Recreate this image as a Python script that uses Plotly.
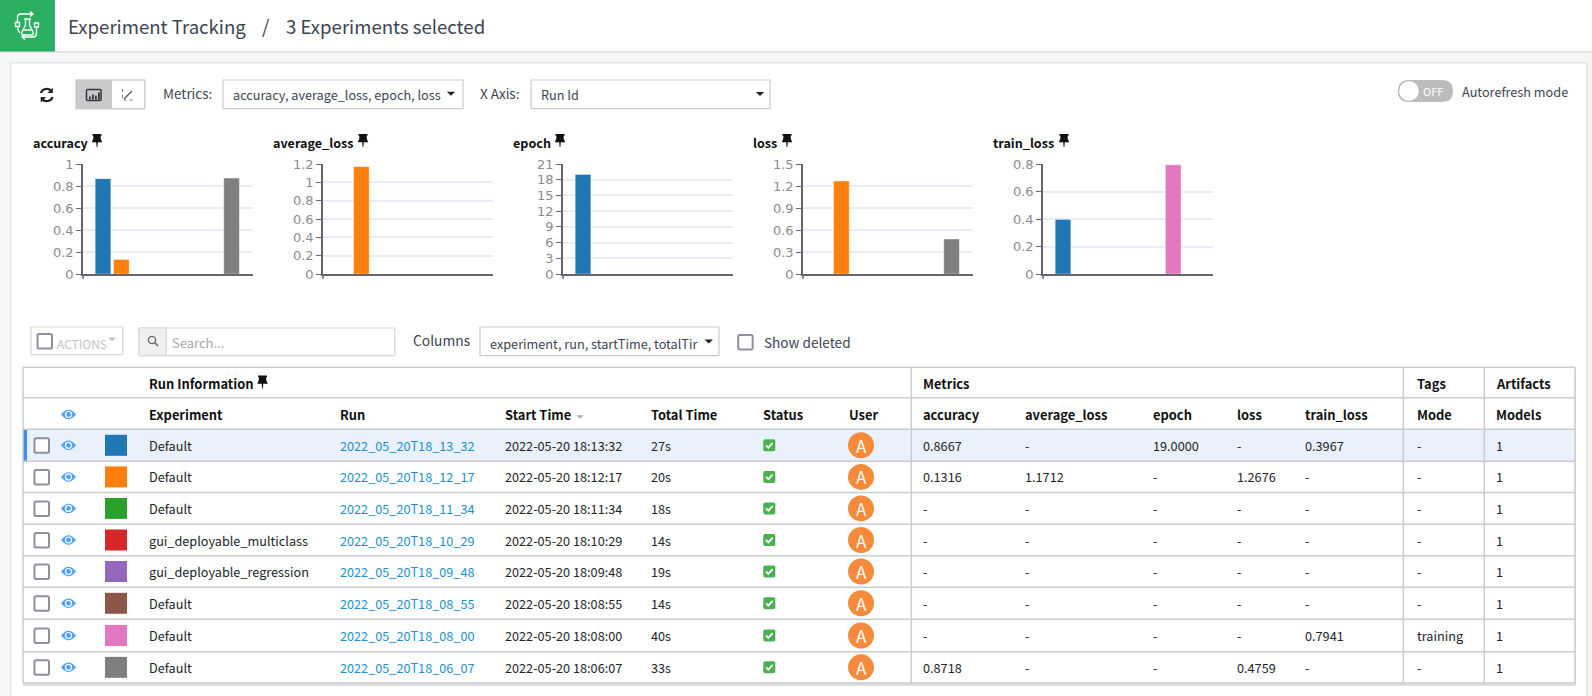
import plotly.graph_objects as go

# ---------- data ----------
run_ids = ["2022_05_20T18_13_32", "2022_05_20T18_12_17", "2022_05_20T18_11_34", "2022_05_20T18_10_29",
           "2022_05_20T18_09_48", "2022_05_20T18_08_55", "2022_05_20T18_08_00", "2022_05_20T18_06_07"]
experiments = ["Default", "Default", "Default", "gui_deployable_multiclass",
               "gui_deployable_regression", "Default", "Default", "Default"]
start_times = ["2022-05-20 18:13:32", "2022-05-20 18:12:17", "2022-05-20 18:11:34", "2022-05-20 18:10:29",
               "2022-05-20 18:09:48", "2022-05-20 18:08:55", "2022-05-20 18:08:00", "2022-05-20 18:06:07"]
total_times = ["27s", "20s", "18s", "14s", "19s", "14s", "40s", "33s"]
accuracy = [0.8667, 0.1316, None, None, None, None, None, 0.8718]
average_loss = [None, 1.1712, None, None, None, None, None, None]
epoch = [19.0, None, None, None, None, None, None, None]
loss = [None, 1.2676, None, None, None, None, None, 0.4759]
train_loss = [0.3967, None, None, None, None, None, 0.7941, None]
modes = ["-", "-", "-", "-", "-", "-", "training", "-"]
models = ["1", "1", "1", "1", "1", "1", "1", "1"]
run_colors = ["#1f77b4", "#ff7f0e", "#2ca02c", "#d62728", "#9467bd", "#8c564b", "#e377c2", "#7f7f7f"]

metric_names = ["accuracy", "average_loss", "epoch", "loss", "train_loss"]
metric_series = [accuracy, average_loss, epoch, loss, train_loss]
metric_ranges = [[0, 1], [0, 1.2], [0, 21], [0, 1.5], [0, 0.8]]
metric_dticks = [0.2, 0.2, 3, 0.3, 0.2]
metric_ticktext = [["0", "0.2", "0.4", "0.6", "0.8", "1"],
                   ["0", "0.2", "0.4", "0.6", "0.8", "1", "1.2"],
                   ["0", "3", "6", "9", "12", "15", "18", "21"],
                   ["0", "0.3", "0.6", "0.9", "1.2", "1.5"],
                   ["0", "0.2", "0.4", "0.6", "0.8"]]

# ---------- layout constants ----------
W, H = 1592, 696
FONT = "Noto Sans CJK JP"
TXT = "#212529"
BODY = 12.7
HEAD = 12.9
chart_left = [83, 323, 563, 803, 1043]
chart_w = 169.5
chart_top, chart_bottom = 164, 274
title_x = [33, 273, 513, 753, 993]
pin_x = [97, 363, 560, 787, 1064]
row_tops = [429.3, 461.3, 492.5, 524.3, 555.7, 587.3, 619.3, 651.7, 683]
col_x = dict(exp=149.3, run=340, start=504.6, total=650.8, status=763.3, user=848.7, acc=923,
             avg=1024.5, epoch=1153.4, loss=1236.6, train=1305.4, mode=1417.3, models=1495.5)


def X(v):
    return v / W


def Y(v):
    return 1 - v / H


shapes = []
annots = []


def rect(x0, y0, x1, y1, fill=None, line=None, lw=1):
    shapes.append(dict(type="rect", xref="paper", yref="paper", x0=X(x0), x1=X(x1), y0=Y(y0), y1=Y(y1),
                       fillcolor=fill or "rgba(0,0,0,0)", line=dict(color=line or "rgba(0,0,0,0)", width=lw if line else 0),
                       layer="below"))


def hline(x0, x1, y, color="#cccccc", lw=1.5):
    shapes.append(dict(type="line", xref="paper", yref="paper", x0=X(x0), x1=X(x1), y0=Y(y), y1=Y(y),
                       line=dict(color=color, width=lw), layer="below"))


def vline(x, y0, y1, color="#cccccc", lw=1.5):
    shapes.append(dict(type="line", xref="paper", yref="paper", x0=X(x), x1=X(x), y0=Y(y0), y1=Y(y1),
                       line=dict(color=color, width=lw), layer="below"))


def circle(cx, cy, r, fill=None, line=None, lw=1):
    shapes.append(dict(type="circle", xref="paper", yref="paper", x0=X(cx - r), x1=X(cx + r), y0=Y(cy - r), y1=Y(cy + r),
                       fillcolor=fill or "rgba(0,0,0,0)", line=dict(color=line or "rgba(0,0,0,0)", width=lw if line else 0),
                       layer="below"))


def path(d, fill=None, line=None, lw=1, dash="solid"):
    res = ""
    isx = True
    for tok in d.split():
        if tok.isalpha():
            res += " " + tok + " "
            isx = True
        else:
            val = float(tok)
            res += (f"{X(val):.6f}" if isx else f"{Y(val):.6f}") + " "
            isx = not isx
    shapes.append(dict(type="path", xref="paper", yref="paper", path=res.strip(),
                       fillcolor=fill or "rgba(0,0,0,0)",
                       line=dict(color=line or "rgba(0,0,0,0)", width=lw if line else 0, dash=dash),
                       layer="below"))


def text(x, y, s, size=BODY, color=TXT, anchor="left", bold=False):
    annots.append(dict(xref="paper", yref="paper", x=X(x), y=Y(y), text=f"<b>{s}</b>" if bold else s,
                       showarrow=False, xanchor=anchor, yanchor="middle", borderpad=0, borderwidth=0,
                       font=dict(family=FONT, size=size, color=color)))


def rrect(x0, y0, x1, y1, r, fill=None, line=None, lw=1):
    d = (f"M {x0 + r} {y0} L {x1 - r} {y0} Q {x1} {y0} {x1} {y0 + r} L {x1} {y1 - r} Q {x1} {y1} {x1 - r} {y1} "
         f"L {x0 + r} {y1} Q {x0} {y1} {x0} {y1 - r} L {x0} {y0 + r} Q {x0} {y0} {x0 + r} {y0} Z")
    path(d, fill, line, lw)


def pin(cx, top):
    d = (f"M {cx - 4.5} {top} L {cx + 4.5} {top} L {cx + 4.5} {top + 1.8} L {cx + 3.6} {top + 1.8} L {cx + 3.8} {top + 5} "
         f"L {cx + 5.3} {top + 8.2} L {cx + 0.8} {top + 8.2} L {cx + 0.4} {top + 13} L {cx - 0.4} {top + 13} L {cx - 0.8} {top + 8.2} "
         f"L {cx - 5.3} {top + 8.2} L {cx - 3.8} {top + 5} L {cx - 3.6} {top + 1.8} L {cx - 4.5} {top + 1.8} Z")
    path(d, "#111111")


def checkbox(x0, y0, size=14.5):
    rrect(x0, y0, x0 + size, y0 + size, 1.5, "#ffffff", "#8f8f9d", 2)


def caret(cx, cy, color="#222222", w=4.2, h=4):
    path(f"M {cx - w} {cy - h / 2} L {cx + w} {cy - h / 2} L {cx} {cy + h / 2} Z", color)


def eye(cx, cy):
    path(f"M {cx - 7.5} {cy} Q {cx} {cy - 9.5} {cx + 7.5} {cy} Q {cx} {cy + 9.5} {cx - 7.5} {cy} Z", "#4ea3f8")
    circle(cx, cy, 3.6, "#ffffff")
    circle(cx, cy, 2.4, "#4ea3f8")


# ---------- page chrome ----------
rect(0, 0, W, 51.5, "#ffffff")
hline(0, W, 51.7, "#dddddd", 1.5)
rect(0, 0, 55, 51.5, "#2aae60")
lw_i = 1.4
wh = "#ffffff"
path("M 25.5 19 L 25.5 25 L 21.8 32.5 Q 21 35 23.5 35 L 31.5 35 Q 34 35 33.2 32.5 L 29.5 25 L 29.5 19", None, wh, lw_i)
path("M 24 19 L 31 19", None, wh, lw_i)
path("M 23.5 30 L 31.5 30", None, wh, lw_i)
path("M 17.5 22 L 17.5 17 Q 17.5 14 20.5 14 L 33 14", None, wh, lw_i)
path("M 30 11.5 L 33 14 L 30 16.5", None, wh, lw_i)
path("M 36.5 27.5 L 36.5 33 Q 36.5 37 33 37 L 22 37", None, wh, lw_i)
path("M 25 34.5 L 22 37 L 25 39.5", None, wh, lw_i)
path("M 17.5 27.5 Q 17.5 31 20 33", None, wh, lw_i)
rect(15.5, 22.5, 19.5, 26.5, None, wh, lw_i)
rect(34.5, 23, 38.5, 27, None, wh, lw_i)
text(68, 25.2, "Experiment Tracking", 18.6, "#3d4450")
text(262, 25.2, "/", 18.6, "#3d4450")
text(286, 25.2, "3 Experiments selected", 18.6, "#3d4450")

rect(10.7, 62.7, 1587, 697, "#ffffff", "#e4e4e4", 1.5)

# toolbar
path("M 41 93 C 42 88.5 49 87.5 51.5 91", None, "#222222", 2.2)
path("M 52.5 97 C 51.5 101.5 44.5 102.5 42 99", None, "#222222", 2.2)
path("M 52.8 87.5 L 52.8 93 L 47.5 93 Z", "#222222")
path("M 40.7 102.5 L 40.7 97 L 46 97 Z", "#222222")
rect(76, 80, 144.7, 108.7, "#ffffff", "#cfcfcf", 1.5)
rect(76, 80, 112, 108.7, "#c9c9c9")
rrect(86.5, 89.5, 101, 100.5, 1, None, "#3a3340", 1.5)
for bx, bh in zip([89, 92, 95, 98], [3, 5, 4, 7]):
    rect(bx, 99.5 - bh, bx + 1.8, 99.5, "#3a3340")
path("M 122.5 89 L 122.5 100 L 133 100", None, "#777777", 1, "dot")
path("M 124 99 L 132 91", None, "#555555", 1.2)
text(162.5, 92.8, "Metrics:", 13.5, "#3d4450")
rect(223, 80, 463, 108.7, "#ffffff", "#cccccc", 1.2)
text(233, 95, "accuracy, average_loss, epoch, loss", 12.7, "#3d4450")
caret(451, 93.7)
text(480, 92.8, "X Axis:", 13.5, "#3d4450")
rect(531, 80, 770, 108.7, "#ffffff", "#cccccc", 1.2)
text(541, 95, "Run Id", 12.7, "#3d4450")
caret(760, 94)
rrect(1398, 80, 1453, 102, 11, "#bcbcbc")
circle(1409, 91, 10.4, "#ffffff", "#a8a8a8", 0.8)
text(1422.5, 91, "OFF", 11, "#ffffff")
text(1462, 91.5, "Autorefresh mode", 12.7, "#3d4450")

# table toolbar
rect(31, 327, 122.7, 354.7, "#ffffff", "#d8d8d8", 1.2)
checkbox(37.5, 334)
text(57.3, 343, "ACTIONS", 12, "#c2c2c2")
caret(112, 339.5, "#c8c8c8")
rect(139, 328, 394.7, 355.7, "#ffffff", "#d8d8d8", 1.2)
rect(139, 328, 166.3, 355.7, "#f0f0f0", "#d8d8d8", 1.2)
circle(152, 340, 3.6, None, "#666666", 1.4)
path("M 154.8 342.8 L 158 346", None, "#666666", 1.6)
text(172, 342.3, "Search...", 13, "#a8a8a8")
text(413, 340, "Columns", 13.8, "#3d4450")
rect(480, 327, 719, 355.7, "#ffffff", "#cccccc", 1.2)
text(490, 343, "experiment, run, startTime, totalTir", 12.7, "#3d4450")
caret(708.7, 341.5)
checkbox(738.2, 335)
text(764, 341.7, "Show deleted", 13.6, "#3d4450")

# ---------- table ----------
T_L, T_R, T_T, T_M = 23, 1575, 367.3, 397.7
rect(T_L, T_T + 3, T_R + 1, row_tops[-1] + 3, "#dedede")
rect(T_L, T_T, T_R, row_tops[-1], "#ffffff")
rect(T_L, row_tops[0], T_R, row_tops[1], "#e9f1fd")
rect(T_L, row_tops[0], 27, row_tops[1], "#3e8ef7")
for yy in [T_T, T_M] + row_tops:
    hline(T_L, T_R, yy)
vline(T_L, T_T, row_tops[-1])
vline(T_R, T_T, row_tops[-1])
for xx in [911.3, 1403.3, 1484.3]:
    vline(xx, T_T, row_tops[-1])

text(col_x["exp"], 383, "Run Information", HEAD, "#111111", bold=True)
pin(262.5, 375.5)
text(col_x["acc"], 383, "Metrics", HEAD, "#111111", bold=True)
text(col_x["mode"], 383, "Tags", HEAD, "#111111", bold=True)
text(col_x["models"], 383, "Artifacts", HEAD, "#111111", bold=True)
eye(68.5, 414.5)
headers = [("exp", "Experiment"), ("run", "Run"), ("start", "Start Time"), ("total", "Total Time"), ("status", "Status"),
           ("user", "User"), ("acc", "accuracy"), ("avg", "average_loss"), ("epoch", "epoch"), ("loss", "loss"),
           ("train", "train_loss"), ("mode", "Mode"), ("models", "Models")]
for k, h in headers:
    text(col_x[k], 414.7, h, HEAD, "#111111", bold=True)
caret(580, 417, "#b0b0b0", 4, 3.6)


def fmt(v):
    return "-" if v is None else f"{v:.4f}"


for i in range(8):
    cy = (row_tops[i] + row_tops[i + 1]) / 2
    checkbox(34.5, cy - 7)
    eye(68.5, cy)
    rect(105, cy - 10.5, 127, cy + 10.5, run_colors[i])
    text(col_x["exp"], cy, experiments[i])
    text(col_x["run"], cy, run_ids[i], BODY, "#1b8fd0")
    text(col_x["start"], cy, start_times[i])
    text(col_x["total"], cy, total_times[i])
    rrect(763.3, cy - 6, 775.3, cy + 6, 1.8, "#4cb050")
    path(f"M {766} {cy} L {768.4} {cy + 2.4} L {772.6} {cy - 2.4}", None, "#ffffff", 1.8)
    circle(861, cy, 13, "#f58b3a")
    text(861, cy, "A", 17, "#ffffff", "center")
    text(col_x["acc"], cy, fmt(accuracy[i]))
    text(col_x["avg"], cy, fmt(average_loss[i]))
    text(col_x["epoch"], cy, fmt(epoch[i]))
    text(col_x["loss"], cy, fmt(loss[i]))
    text(col_x["train"], cy, fmt(train_loss[i]))
    text(col_x["mode"], cy, modes[i])
    text(col_x["models"], cy, models[i])

# ---------- charts ----------
fig = go.Figure()
layout_axes = {}
for n, name in enumerate(metric_names):
    sfx = "" if n == 0 else str(n + 1)
    fig.add_trace(go.Bar(x=run_ids, y=metric_series[n], width=0.85, xaxis=f"x{sfx}", yaxis=f"y{sfx}",
                         marker=dict(color=run_colors, line=dict(color="rgba(255,255,255,0.35)", width=1)),
                         showlegend=False, hoverinfo="skip"))
    x0 = chart_left[n]
    x1 = x0 + chart_w
    layout_axes[f"xaxis{sfx}"] = dict(domain=[X(x0), X(x1)], anchor=f"y{sfx}", type="category", categoryorder="array",
                                      categoryarray=run_ids, range=[-1.09, 8.14], showticklabels=False, ticks="",
                                      showgrid=False, zeroline=False, showline=True, linecolor="#66666e", linewidth=1.5,
                                      fixedrange=True)
    dt = metric_dticks[n]
    tv = [round(k * dt, 4) for k in range(len(metric_ticktext[n]))]
    layout_axes[f"yaxis{sfx}"] = dict(domain=[Y(chart_bottom), Y(chart_top)], anchor=f"x{sfx}", range=metric_ranges[n],
                                      tickmode="array", tickvals=tv, ticktext=metric_ticktext[n], ticks="outside", ticklen=5,
                                      tickcolor="#66666e", tickwidth=1.2, showgrid=True, gridcolor="#e9ebf7", gridwidth=1.6,
                                      zeroline=False, showline=True, linecolor="#66666e", linewidth=1.5, fixedrange=True,
                                      tickfont=dict(family="DejaVu Sans", size=13, color="#8c8c8c"))
    text(title_x[n], 142.7, name, 12.6, "#111111", bold=True)
    pin(pin_x[n], 134)
    vline(x0, chart_bottom, chart_bottom + 5, "#66666e", 1.5)

fig.update_layout(width=W, height=H, margin=dict(l=0, r=0, t=0, b=0, pad=0, autoexpand=False), paper_bgcolor="#f6f6f6",
                  plot_bgcolor="rgba(0,0,0,0)", shapes=shapes, annotations=annots, barmode="overlay",
                  font=dict(family=FONT), **layout_axes)

fig.write_html("out.html", config=dict(displayModeBar=False),
               post_script="document.body.style.margin='0';document.body.style.overflow='hidden';")
